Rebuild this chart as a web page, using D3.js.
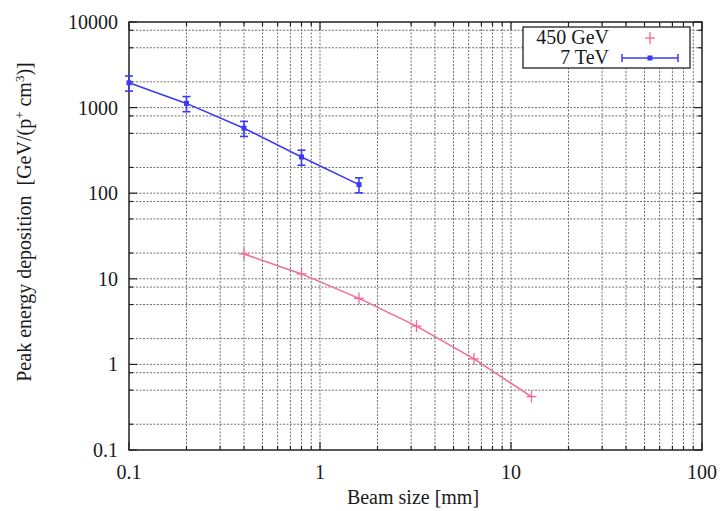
<!DOCTYPE html>
<html>
<head>
<meta charset="utf-8">
<script src="https://cdn.jsdelivr.net/npm/d3@7"></script>
<style>
  body { margin: 0; background: #fff; }
  svg text { font-family: "Liberation Serif", "DejaVu Serif", serif; fill: #1a1a1a; }
</style>
</head>
<body>
<div id="chart"></div>
<script>
// beam size [mm]
var beamSize7 = [0.1, 0.2, 0.4, 0.8, 1.6];
var dep7 = [1950, 1120, 575, 265, 126];
var err7 = [390, 225, 115, 53, 25];

var beamSize450 = [0.4, 0.8, 1.6, 3.2, 6.4, 12.8];
var dep450 = [19.5, 11.4, 5.9, 2.8, 1.16, 0.42];

var xTicks = [0.1, 1, 10, 100];
var yTicks = [0.1, 1, 10, 100, 1000, 10000];
var xTickLabels = ["0.1", "1", "10", "100"];
var yTickLabels = ["0.1", "1", "10", "100", "1000", "10000"];
var yMinorSteps = [2, 5, 8];

var width = 721, height = 511;
var margin = {top: 22, right: 19, bottom: 61, left: 129};

var blue = "#3b3bf5";
var pink = "#f06a94";

var svg = d3.select("#chart").append("svg")
    .attr("width", width)
    .attr("height", height);

var x = d3.scaleLog().domain([0.1, 100]).range([margin.left, width - margin.right]);
var y = d3.scaleLog().domain([0.1, 10000]).range([height - margin.bottom, margin.top]);

//minor positions
var xMinor = [], yMinor = [];
for(var d = 0.1; d < 100; d *= 10) {
    for(var k = 2; k <= 9; k++) xMinor.push(d * k);
}
for(var e = 0.1; e < 10000; e *= 10) {
    yMinorSteps.forEach(function(k) { yMinor.push(e * k); });
}

var grid = svg.append("g").attr("class", "grid");
grid.selectAll("line.gx")
    .data(xMinor.concat(xTicks.slice(1, -1)))
    .enter().append("line")
    .attr("x1", function(d) { return x(d); })
    .attr("x2", function(d) { return x(d); })
    .attr("y1", y.range()[1])
    .attr("y2", y.range()[0])
    .attr("stroke", "#707070")
    .attr("stroke-width", 1)
    .attr("stroke-dasharray", "2,1.5");

grid.selectAll("line.gy")
    .data(yMinor.concat(yTicks.slice(1, -1)))
    .enter().append("line")
    .attr("y1", function(d) { return y(d); })
    .attr("y2", function(d) { return y(d); })
    .attr("x1", x.range()[0])
    .attr("x2", x.range()[1])
    .attr("stroke", "#707070")
    .attr("stroke-width", 1)
    .attr("stroke-dasharray", "2,1.5");

// ticks on all four sides, pointing inward
var ticks = svg.append("g").attr("stroke", "#222").attr("stroke-width", 1.2);
function xTickMarks(vals, len) {
    vals.forEach(function(v) {
        ticks.append("line").attr("x1", x(v)).attr("x2", x(v))
            .attr("y1", y.range()[0]).attr("y2", y.range()[0] - len);
        ticks.append("line").attr("x1", x(v)).attr("x2", x(v))
            .attr("y1", y.range()[1]).attr("y2", y.range()[1] + len);
    });
}
function yTickMarks(vals, len) {
    vals.forEach(function(v) {
        ticks.append("line").attr("y1", y(v)).attr("y2", y(v))
            .attr("x1", x.range()[0]).attr("x2", x.range()[0] + len);
        ticks.append("line").attr("y1", y(v)).attr("y2", y(v))
            .attr("x1", x.range()[1]).attr("x2", x.range()[1] - len);
    });
}
xTickMarks(xTicks, 8);
xTickMarks(xMinor, 4);
yTickMarks(yTicks, 8);
yTickMarks(yMinor, 4);

svg.append("rect")
    .attr("x", x.range()[0])
    .attr("y", y.range()[1])
    .attr("width", x.range()[1] - x.range()[0])
    .attr("height", y.range()[0] - y.range()[1])
    .attr("fill", "none")
    .attr("stroke", "#222")
    .attr("stroke-width", 1.5);

// tick labels
svg.append("g").selectAll("text")
    .data(xTicks)
    .enter().append("text")
    .attr("x", function(d) { return x(d); })
    .attr("y", y.range()[0] + 29)
    .attr("text-anchor", "middle")
    .style("font-size", "20px")
    .text(function(d, i) { return xTickLabels[i]; });

svg.append("g").selectAll("text")
    .data(yTicks)
    .enter().append("text")
    .attr("x", x.range()[0] - 11)
    .attr("y", function(d) { return y(d) + 7; })
    .attr("text-anchor", "end")
    .style("font-size", "20px")
    .text(function(d, i) { return yTickLabels[i]; });

// axis titles
svg.append("text")
    .attr("x", 413)
    .attr("y", 504)
    .attr("text-anchor", "middle")
    .style("font-size", "20px")
    .text("Beam size [mm]");

var yTitle = svg.append("text")
    .attr("transform", "translate(31,222) rotate(-90)")
    .attr("text-anchor", "middle")
    .style("font-size", "20px")
    .style("white-space", "pre");
yTitle.append("tspan").text("Peak energy deposition  [GeV/(p");
yTitle.append("tspan").attr("baseline-shift", "super").style("font-size", "13px").text("+");
yTitle.append("tspan").text(" cm");
yTitle.append("tspan").attr("baseline-shift", "super").style("font-size", "13px").text("3");
yTitle.append("tspan").text(")]");

var line = d3.line()
    .x(function(d) { return x(d[0]); })
    .y(function(d) { return y(d[1]); });

// 450 GeV
var pts450 = beamSize450.map(function(v, i) { return [v, dep450[i]]; });
svg.append("path")
    .datum(pts450)
    .attr("d", line)
    .attr("fill", "none")
    .attr("stroke", pink)
    .attr("stroke-width", 1.5);

var plus = svg.append("g").attr("stroke", pink).attr("stroke-width", 1.3);
pts450.forEach(function(p) {
    var cx = x(p[0]), cy = y(p[1]);
    plus.append("line").attr("x1", cx - 5).attr("x2", cx + 5).attr("y1", cy).attr("y2", cy);
    plus.append("line").attr("x1", cx).attr("x2", cx).attr("y1", cy - 6).attr("y2", cy + 6);
});

// 7 TeV
var pts7 = beamSize7.map(function(v, i) { return [v, dep7[i], err7[i]]; });
svg.append("path")
    .datum(pts7)
    .attr("d", line)
    .attr("fill", "none")
    .attr("stroke", blue)
    .attr("stroke-width", 1.6);

var bars = svg.append("g").attr("stroke", blue).attr("stroke-width", 1.6);
pts7.forEach(function(p) {
    var cx = x(p[0]);
    var top = y(p[1] + p[2]), bot = y(p[1] - p[2]);
    bars.append("line").attr("x1", cx).attr("x2", cx).attr("y1", top).attr("y2", bot);
    bars.append("line").attr("x1", cx - 4).attr("x2", cx + 4).attr("y1", top).attr("y2", top);
    bars.append("line").attr("x1", cx - 4).attr("x2", cx + 4).attr("y1", bot).attr("y2", bot);
    bars.append("rect").attr("x", cx - 2.5).attr("y", y(p[1]) - 2.5)
        .attr("width", 5).attr("height", 5).attr("fill", blue).attr("stroke", "none");
});

// legend
var legend = svg.append("g");
legend.append("rect")
    .attr("x", 523).attr("y", 27)
    .attr("width", 167).attr("height", 41)
    .attr("fill", "#fff")
    .attr("stroke", "#222")
    .attr("stroke-width", 1.3);
legend.append("text").attr("x", 609).attr("y", 44)
    .attr("text-anchor", "end").style("font-size", "20px").text("450 GeV");
legend.append("text").attr("x", 609).attr("y", 64)
    .attr("text-anchor", "end").style("font-size", "20px").text("7 TeV");
legend.append("line").attr("x1", 645).attr("x2", 655).attr("y1", 38).attr("y2", 38)
    .attr("stroke", pink).attr("stroke-width", 1.3);
legend.append("line").attr("x1", 650).attr("x2", 650).attr("y1", 32).attr("y2", 44)
    .attr("stroke", pink).attr("stroke-width", 1.3);
var lg = legend.append("g").attr("stroke", blue).attr("stroke-width", 1.5);
lg.append("line").attr("x1", 622).attr("x2", 678).attr("y1", 58).attr("y2", 58);
lg.append("line").attr("x1", 622).attr("x2", 622).attr("y1", 54).attr("y2", 62);
lg.append("line").attr("x1", 678).attr("x2", 678).attr("y1", 54).attr("y2", 62);
lg.append("rect").attr("x", 647.5).attr("y", 55.5).attr("width", 5).attr("height", 5)
    .attr("fill", blue).attr("stroke", "none");
</script>
</body>
</html>
